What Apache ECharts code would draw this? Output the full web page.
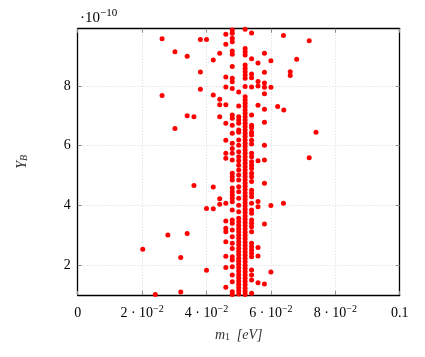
<!DOCTYPE html>
<html>
<head>
<meta charset="utf-8">
<script src="https://cdn.jsdelivr.net/npm/echarts@6/dist/echarts.min.js"></script>
<style>
  html, body { margin: 0; padding: 0; background: #fff; }
  #chart { width: 425px; height: 357px; }
</style>
</head>
<body>
<div id="chart"></div>
<script>
// Y_B values in units of 1e-10, grouped by the m1 column they sit in
const col046 = [9.93, 9.73, 9.40, 8.30, 7.97, 7.37, 6.75, 6.18, 5.75, 5.58, 4.07, 3.48, 3.24, 3.12, 2.78, 2.30, 1.92, 1.26]
const col048 = [9.88, 9.77, 9.60, 9.48, 9.17, 9.06, 8.65, 8.26, 8.14, 7.92, 7.03, 6.92, 6.69, 6.42, 6.08, 5.91, 5.75, 5.52,
  5.08, 4.96, 4.85, 4.58, 4.46, 4.35, 4.24, 4.12, 3.85, 3.51, 3.40, 3.18, 2.95, 2.73, 2.56, 2.28, 2.17, 1.95, 1.67, 1.44, 1.11, 1.02]
const col050 = [7.80, 7.33, 6.97, 6.86, 6.75, 6.53, 6.45, 6.19, 6.02, 5.80, 5.63, 5.50, 5.35, 5.19, 5.02, 4.85, 4.63, 4.46,
  4.24, 4.01, 3.79, 3.57, 3.45, 3.34, 3.22, 3.12, 3.01, 2.90, 2.78, 2.68, 2.57, 2.46, 2.35, 2.23, 2.13, 2.02, 1.91, 1.80,
  1.69, 1.58, 1.47, 1.36, 1.25, 1.14, 1.03]
const col052 = [9.90, 9.26, 9.15, 9.04, 8.70, 8.59, 8.48, 8.37, 8.26, 7.98, 7.64, 7.53, 7.42, 7.31, 7.20, 7.09, 6.97, 6.86,
  6.75, 6.64, 6.53, 6.42, 6.31, 6.19, 6.08, 5.97, 5.86, 5.75, 5.63, 5.52, 5.41, 5.30, 5.19, 5.08, 4.97, 4.86, 4.75, 4.64,
  4.53, 4.42, 4.31, 4.20, 4.09, 3.98, 3.87, 3.76, 3.65, 3.54, 3.43, 3.32, 3.21, 3.10, 2.99, 2.88, 2.77, 2.66, 2.55, 2.44,
  2.33, 2.22, 2.11, 2.00, 1.89, 1.78, 1.67, 1.56, 1.45, 1.34, 1.23, 1.12, 1.02]
const col054 = [9.93, 9.78, 8.91, 8.40, 8.28, 7.97, 7.03, 6.69, 6.60, 6.45, 6.36, 6.18, 6.06, 5.75, 5.63, 5.46, 5.35, 5.24,
  5.08, 4.96, 4.80, 4.51, 4.40, 4.29, 4.07, 3.85, 3.74, 3.51, 3.40, 3.29, 3.12, 2.73, 2.62, 2.51, 2.40, 2.28, 1.84, 1.67,
  1.50, 1.06]
const col056 = [8.77, 8.15, 8.00, 7.36, 5.50, 4.13, 3.96, 2.59, 2.31, 1.41]
const col058 = [9.10, 8.46, 8.10, 7.96, 7.74, 7.22, 6.79, 6.02, 5.52, 4.74, 3.38, 1.37]
const col060 = [8.85, 7.96, 4.00, 1.77]
const columnX = [0.046, 0.048, 0.050, 0.052, 0.054, 0.056, 0.058, 0.060]
const columnY = [col046, col048, col050, col052, col054, col056, col058, col060]

// scattered points away from the main band
const looseX = [0.0262, 0.0381, 0.0400, 0.0302, 0.0340, 0.0441, 0.0421, 0.0381, 0.0381, 0.0262, 0.0421, 0.0441, 0.0441,
  0.0340, 0.0361, 0.0441, 0.0302, 0.0639, 0.0719, 0.0680, 0.0660, 0.0660, 0.0621, 0.0640, 0.0740, 0.0719, 0.0202,
  0.0241, 0.0280, 0.0340, 0.0320, 0.0320, 0.0361, 0.0421, 0.0441, 0.0441, 0.0400, 0.0421, 0.0400, 0.0639]
const looseY = [9.58, 9.56, 9.56, 9.15, 9.00, 9.10, 8.87, 8.47, 7.89, 7.68, 7.70, 7.56, 7.37,
  7.00, 6.97, 6.97, 6.58, 9.69, 9.52, 8.90, 8.48, 8.35, 7.31, 7.20, 6.45, 5.60, 2.53,
  1.02, 3.01, 3.06, 2.26, 1.10, 4.67, 4.62, 4.22, 4.04, 3.90, 3.89, 1.83, 4.07]

const xTickText = { 0: '0', 2: '2 · 10', 4: '4 · 10', 6: '6 · 10', 8: '8 · 10', 10: '0.1' }

const points = []
columnX.forEach((x, i) => {
  columnY[i].forEach(y => points.push([x, y]))
})
looseX.forEach((x, i) => points.push([x, looseY[i]]))

const serif = 'Liberation Serif'
const grid = { left: 77.7, right: 25.3, top: 28.7, bottom: 62 }
const tickStyle = { show: true, inside: true, length: 4, lineStyle: { color: '#8c8c8c', width: 1 } }
const boxLine = { show: true, onZero: false, lineStyle: { color: '#000', width: 1.3 } }
const gridLine = { show: true, lineStyle: { color: '#d9d9d9', type: [1, 2], width: 1 } }

const chart = echarts.init(document.getElementById('chart'), null, { renderer: 'canvas' })
chart.setOption({
  animation: false,
  grid: grid,
  graphic: [{
    type: 'text',
    left: 80,
    top: 8,
    style: {
      text: '{b|·10}{s|−10}',
      rich: {
        b: { fontFamily: serif, fontSize: 15, fill: '#000', lineHeight: 18, verticalAlign: 'bottom' },
        s: { fontFamily: serif, fontSize: 11, fill: '#000', lineHeight: 18, verticalAlign: 'top' }
      }
    }
  }],
  xAxis: [{
    type: 'value',
    min: 0,
    max: 0.1,
    interval: 0.02,
    name: '{i|m}{sub|1}  {i|[eV]}',
    nameLocation: 'middle',
    nameGap: 33,
    nameTextStyle: {
      rich: {
        i: { fontFamily: serif, fontStyle: 'italic', fontSize: 14, color: '#333' },
        sub: { fontFamily: serif, fontSize: 10, color: '#333', verticalAlign: 'bottom', lineHeight: 10 }
      }
    },
    axisLine: boxLine,
    axisTick: tickStyle,
    splitLine: gridLine,
    axisLabel: {
      margin: 9,
      formatter: v => {
        const k = Math.round(v * 100)
        if (k === 0 || k === 10) return '{b|' + xTickText[k] + '}'
        return '{b|' + xTickText[k] + '}{s|−2}'
      },
      rich: {
        b: { fontFamily: serif, fontSize: 14, color: '#000', lineHeight: 16, verticalAlign: 'bottom' },
        s: { fontFamily: serif, fontSize: 10, color: '#000', lineHeight: 16, verticalAlign: 'top', padding: [0, 0, 6, 0] }
      }
    }
  }, {
    type: 'value',
    position: 'top',
    min: 0,
    max: 0.1,
    interval: 0.02,
    axisLine: boxLine,
    axisTick: tickStyle,
    axisLabel: { show: false },
    splitLine: { show: false }
  }],
  yAxis: [{
    type: 'value',
    min: 1,
    max: 9.92,
    name: '{i|Y}{sub|B}',
    nameLocation: 'middle',
    nameGap: 48,
    nameRotate: 90,
    nameTextStyle: {
      rich: {
        i: { fontFamily: serif, fontStyle: 'italic', fontSize: 14, color: '#333' },
        sub: { fontFamily: serif, fontStyle: 'italic', fontSize: 10, color: '#333', verticalAlign: 'bottom', lineHeight: 10 }
      }
    },
    axisLine: boxLine,
    axisTick: Object.assign({ customValues: [2, 4, 6, 8] }, tickStyle),
    splitLine: gridLine,
    axisLabel: {
      customValues: [2, 4, 6, 8],
      margin: 7,
      fontFamily: serif,
      fontSize: 14,
      color: '#000'
    }
  }, {
    type: 'value',
    position: 'right',
    min: 1,
    max: 9.92,
    axisLine: boxLine,
    axisTick: Object.assign({ customValues: [2, 4, 6, 8] }, tickStyle),
    axisLabel: { show: false },
    splitLine: { show: false }
  }],
  series: [{
    type: 'scatter',
    xAxisIndex: 0,
    yAxisIndex: 0,
    symbol: 'circle',
    symbolSize: 5,
    itemStyle: { color: '#ff0000', opacity: 1 },
    data: points
  }]
})
</script>
</body>
</html>
